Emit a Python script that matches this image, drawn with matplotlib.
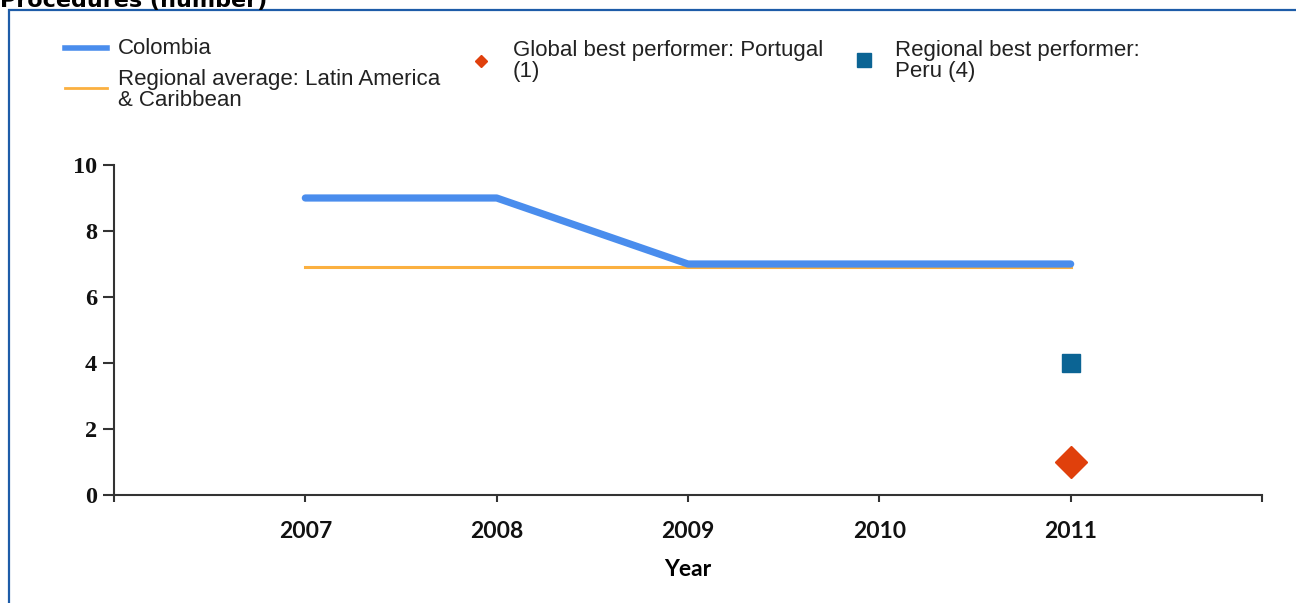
import matplotlib
matplotlib.use("Agg")
import matplotlib.pyplot as plt
from matplotlib.patches import Rectangle
from matplotlib.lines import Line2D

years = [2007, 2008, 2009, 2010, 2011]
colombia = [9, 9, 7, 7, 7]
regional_avg = [6.9, 6.9, 6.9, 6.9, 6.9]
global_best_year = [2011]
global_best = [1]
regional_best_year = [2011]
regional_best = [4]
y_ticks = [0, 2, 4, 6, 8, 10]
title = "Procedures (number)"
labels = ["Colombia", "Regional average: Latin America\n& Caribbean",
          "Global best performer: Portugal\n(1)", "Regional best performer:\nPeru (4)"]

c_blue = "#4a8ded"
c_orange = "#fbb040"
c_red = "#e0400c"
c_square = "#0b6494"

W, H = 1296, 603
fig = plt.figure(figsize=(W / 100, H / 100), dpi=100)

def fx(px):
    return px / W

def fy(py):
    return 1 - py / H

# border (right and bottom sides lie outside the picture)
fig.patches.append(Rectangle((fx(8.5), fy(700)), fx(1400 - 8.5), fy(10.5) - fy(700),
                             transform=fig.transFigure, fill=False,
                             edgecolor="#1d5ca8", linewidth=1.6))
fig.text(0, fy(6.5), title, fontsize=16, fontweight="bold", family="DejaVu Sans",
         ha="left", va="baseline")

ax = fig.add_axes([fx(114), fy(495), fx(1262 - 114), fy(165) - fy(495)])
ax.plot(years, colombia, color=c_blue, linewidth=5.2, solid_capstyle="round",
        solid_joinstyle="round", zorder=3)
ax.plot(years, regional_avg, color=c_orange, linewidth=2.2, zorder=2)
ax.plot(regional_best_year, regional_best, "s", color=c_square, markersize=13, zorder=4)
ax.plot(global_best_year, global_best, "D", color=c_red, markersize=16, zorder=4)

ax.set_xlim(2006, 2012)
ax.set_ylim(0, 10)
ax.set_xticks(range(2006, 2013))
ax.set_xticklabels([""] + [str(y) for y in years] + [""])
ax.set_yticks(y_ticks)
for s in ["top", "right"]:
    ax.spines[s].set_visible(False)
for s in ["left", "bottom"]:
    ax.spines[s].set_color("#333333")
    ax.spines[s].set_linewidth(1.5)
ax.tick_params(axis="both", colors="#333333", width=1.5)
ax.tick_params(axis="x", length=5, labelcolor="#111111", pad=14)
ax.tick_params(axis="y", length=8, labelcolor="#111111", pad=4)
for t in ax.get_xticklabels():
    t.set_fontweight("bold"); t.set_family("Lato"); t.set_fontsize(16.5)
for t in ax.get_yticklabels():
    t.set_fontweight("bold"); t.set_family("Liberation Serif"); t.set_fontsize(17.5)
ax.set_xlabel("Year", fontsize=16.5, fontweight="bold", family="Lato", labelpad=12)

# legend (manual)
lt = dict(fontsize=16, family="Liberation Sans", color="#222222", ha="left",
          va="center", linespacing=1.0)
fig.add_artist(Line2D([fx(65), fx(107)], [fy(48), fy(48)], color=c_blue, linewidth=4,
                      transform=fig.transFigure))
fig.text(fx(118), fy(49), labels[0], **lt)
fig.add_artist(Line2D([fx(65), fx(107)], [fy(88), fy(88)], color=c_orange, linewidth=2,
                      transform=fig.transFigure))
fig.text(fx(118), fy(89.5), labels[1], **lt)
fig.add_artist(Line2D([fx(481)], [fy(61)], marker="D", color=c_red, markersize=6.5,
                      linestyle="none", transform=fig.transFigure))
fig.text(fx(513), fy(61), labels[2], **lt)
fig.add_artist(Line2D([fx(864)], [fy(60)], marker="s", color=c_square, markersize=10.5,
                      linestyle="none", transform=fig.transFigure))
fig.text(fx(895), fy(61), labels[3], **lt)

fig.savefig("out.png", dpi=100)
